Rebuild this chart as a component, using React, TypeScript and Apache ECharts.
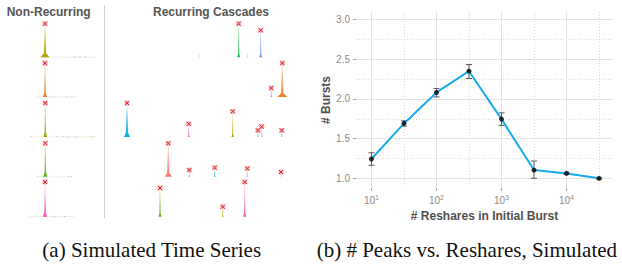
import React, { useEffect, useRef } from "react";
import * as echarts from "echarts";

// [row, time, height (row units), half width, color, has peak marker]
type Spike = [number, number, number, number, string, number];

const nonRecurringSpikes: Spike[] = [
  [0, 45, 0.84, 4.5, "#ADA300", 1],
  [0, 73.3, 0.03, 0.6, "#F57FD0", 0],
  [0, 75.7, 0.03, 0.6, "#E58700", 0],
  [0, 80, 0.03, 0.6, "#3FA9F5", 0],
  [0, 85.7, 0.03, 0.6, "#00B050", 0],
  [1, 45, 0.85, 2.2, "#E8862E", 1],
  [1, 37.3, 0.02, 0.6, "#C8D0E0", 0],
  [1, 50, 0.03, 0.6, "#D070F0", 0],
  [1, 56, 0.03, 0.6, "#F07AB0", 0],
  [1, 66.7, 0.03, 0.6, "#00B8A0", 0],
  [1, 74, 0.03, 0.6, "#A070FF", 0],
  [2, 45.3, 0.85, 1.8, "#99A800", 1],
  [2, 31, 0.03, 0.6, "#D08020", 0],
  [2, 57.3, 0.03, 0.6, "#3F8FF5", 0],
  [2, 63.3, 0.03, 0.6, "#E08A30", 0],
  [2, 67.7, 0.03, 0.6, "#F07AC0", 0],
  [2, 76, 0.03, 0.6, "#C080F0", 0],
  [2, 91.7, 0.03, 0.6, "#B080F0", 0],
  [2, 94.7, 0.03, 0.6, "#A0A000", 0],
  [3, 45.3, 0.84, 2.0, "#5BB300", 1],
  [3, 37.7, 0.03, 0.6, "#3F8FF5", 0],
  [3, 42.7, 0.03, 0.6, "#00B8C0", 0],
  [3, 68.3, 0.03, 0.6, "#3F8FF5", 0],
  [3, 71.3, 0.03, 0.6, "#00A040", 0],
  [4, 45, 0.87, 2.2, "#FB4FC0", 1],
  [4, 44.3, 0.03, 0.6, "#E58700", 0],
  [4, 54.3, 0.03, 0.6, "#8080FF", 0],
  [4, 64.3, 0.03, 0.6, "#00B050", 0],
];

const recurringSpikes: Spike[] = [
  [0, 133.7, 0.84, 1.3, "#00B93A", 1],
  [0, 155.7, 0.675, 1.3, "#6A8CFF", 1],
  [0, 94.3, 0.1, 0.6, "#80CCF0", 0],
  [0, 142.3, 0.1, 0.6, "#60D0C0", 0],
  [1, 177.3, 0.85, 5, "#EE7F2A", 1],
  [1, 166.3, 0.225, 1.0, "#A87BFF", 1],
  [2, 22, 0.85, 3, "#00A8E8", 1],
  [2, 83.7, 0.33, 1.2, "#F05BD0", 1],
  [2, 127.7, 0.64, 1.3, "#C8A000", 1],
  [2, 153, 0.165, 0.9, "#2CC69A", 1],
  [2, 156.7, 0.26, 1.0, "#E88BF5", 1],
  [2, 176.7, 0.165, 0.9, "#D9A640", 1],
  [3, 63.3, 0.84, 3.5, "#F8766D", 1],
  [3, 84.3, 0.17, 0.8, "#1BC3C3", 1],
  [3, 109.7, 0.23, 1.0, "#16C0B0", 1],
  [3, 142.3, 0.21, 1.0, "#E57BEF", 1],
  [3, 176, 0.12, 0.8, "#F79CC9", 1],
  [4, 55, 0.72, 1.6, "#64B000", 1],
  [4, 117.7, 0.25, 1.0, "#B3A600", 1],
  [4, 139.7, 0.87, 1.7, "#F5658F", 1],
];

// [row, start, end] faint baseline extents of the non-recurring series
const nonRecurringBaselines: [number, number, number][] = [
  [0, 40, 96],
  [1, 37, 75],
  [2, 31, 95],
  [3, 37, 72],
  [4, 29, 74],
];

const reshares = [10, 31.62, 100, 316.2, 1000, 3162, 10000, 31623];
const burstMeans = [1.243, 1.692, 2.082, 2.35, 1.746, 1.104, 1.062, 1.0];
const burstLow = [1.164, 1.658, 2.026, 2.258, 1.667, 1.0, 1.05, 0.99];
const burstHigh = [1.322, 1.725, 2.132, 2.434, 1.825, 1.218, 1.075, 1.006];

const yMajorTicks = [1, 1.5, 2, 2.5, 3];
const yMinorTicks = [1.25, 1.75, 2.25, 2.75];
const xMajorTicks = [10, 100, 1000, 10000];
const xMinorTicks = [31.62, 316.2, 3162, 31623];

const SANS = "Liberation Sans";
const SERIF = "Liberation Serif";

function rgba(hex: string, a: number) {
  const h = hex.replace("#", "");
  const r = parseInt(h.slice(0, 2), 16);
  const g = parseInt(h.slice(2, 4), 16);
  const b = parseInt(h.slice(4, 6), 16);
  return `rgba(${r},${g},${b},${a})`;
}

function spikeRenderer(source: Spike[]) {
  return (params: any, api: any) => {
    const [row, t, h, w, color, marked] = source[params.dataIndex];
    const b = 4 - row;
    const pts = [
      [t - w, b],
      [t - Math.min(w * 0.4, 1.2), b + h * 0.12],
      [t - 0.35, b + h],
      [t + 0.35, b + h],
      [t + Math.min(w * 0.4, 1.2), b + h * 0.12],
      [t + w, b],
    ].map((p) => api.coord(p));
    const children: any[] = [
      {
        type: "polygon",
        shape: { points: pts },
        style: {
          fill: new echarts.graphic.LinearGradient(0, 0, 0, 1, [
            { offset: 0, color: rgba(color, 0.15) },
            { offset: 0.5, color: rgba(color, 0.6) },
            { offset: 1, color: rgba(color, 1) },
          ]),
        },
      },
    ];
    if (marked) {
      const [cx, cy] = api.coord([t, b + h]);
      children.push({
        type: "rect",
        shape: { x: cx - 2.5, y: cy - 2.5, width: 5, height: 5 },
        style: { fill: "rgba(245,140,150,0.6)" },
      });
      children.push({
        type: "line",
        shape: { x1: cx - 2, y1: cy - 2, x2: cx + 2, y2: cy + 2 },
        style: { stroke: "#e0202a", lineWidth: 1 },
      });
      children.push({
        type: "line",
        shape: { x1: cx - 2, y1: cy + 2, x2: cx + 2, y2: cy - 2 },
        style: { stroke: "#e0202a", lineWidth: 1 },
      });
    }
    return { type: "group", children };
  };
}

const SUP = ["0", "1", "2", "3", "4", "5"];

export default function App() {
  const ref = useRef<HTMLDivElement>(null);
  useEffect(() => {
    if (!ref.current) return;
    const chart = echarts.init(ref.current, undefined, { renderer: "svg" });
    const hiddenAxis = { show: false };
    const option: any = {
      animation: false,
      backgroundColor: "#ffffff",
      textStyle: { fontFamily: SANS },
      grid: [
        { left: 0, top: 17.3, width: 105, height: 199.4 },
        { left: 105, top: 17.3, width: 205, height: 199.4 },
        { left: 356, top: 12, width: 257, height: 176 },
      ],
      xAxis: [
        { ...hiddenAxis, type: "value", gridIndex: 0, min: 0, max: 105 },
        { ...hiddenAxis, type: "value", gridIndex: 1, min: 0, max: 205 },
        {
          type: "log",
          gridIndex: 2,
          position: "bottom",
          min: 5.78,
          max: 51880,
          axisLine: { show: false },
          axisTick: { show: true, length: 3, lineStyle: { color: "#a0a0a0" }, customValues: xMajorTicks },
          axisLabel: {
            customValues: xMajorTicks,
            margin: 6,
            formatter: (v: number) => `{b|10}{s|${SUP[Math.round(Math.log10(v))]}}`,
            rich: {
              b: { fontSize: 10, color: "#8c8c8c", fontFamily: SANS },
              s: { fontSize: 7, color: "#8c8c8c", fontFamily: SANS, padding: [0, 0, 6, 0] },
            },
          },
          splitLine: { show: true, lineStyle: { color: "#e2e2e2", width: 1 } },
          name: "# Reshares in Initial Burst",
          nameLocation: "middle",
          nameGap: 17,
          nameTextStyle: { fontSize: 12, fontWeight: "bold", color: "#505050", fontFamily: SANS },
        },
        {
          type: "log",
          gridIndex: 2,
          position: "bottom",
          min: 5.78,
          max: 51880,
          axisLine: { show: false },
          axisTick: { show: false, customValues: xMinorTicks },
          axisLabel: { show: false, customValues: xMinorTicks },
          splitLine: { show: true, lineStyle: { color: "#dadada", width: 1, type: [1, 2] } },
        },
      ],
      yAxis: [
        { ...hiddenAxis, type: "value", gridIndex: 0, min: 0, max: 5 },
        { ...hiddenAxis, type: "value", gridIndex: 1, min: 0, max: 5 },
        {
          type: "value",
          gridIndex: 2,
          min: 0.878,
          max: 3.096,
          axisLine: { show: false },
          axisTick: { show: true, length: 3, lineStyle: { color: "#a0a0a0" }, customValues: yMajorTicks },
          axisLabel: {
            customValues: yMajorTicks,
            margin: 6,
            fontSize: 10,
            color: "#8c8c8c",
            fontFamily: SANS,
            formatter: (v: number) => v.toFixed(1),
          },
          splitLine: { show: true, lineStyle: { color: "#e2e2e2", width: 1 } },
          name: "# Bursts",
          nameLocation: "middle",
          nameGap: 22,
          nameTextStyle: { fontSize: 12, fontWeight: "bold", color: "#505050", fontFamily: SANS },
        },
        {
          type: "value",
          gridIndex: 2,
          min: 0.878,
          max: 3.096,
          axisLine: { show: false },
          axisTick: { show: false, customValues: yMinorTicks },
          axisLabel: { show: false, customValues: yMinorTicks },
          splitLine: { show: true, lineStyle: { color: "#dadada", width: 1, type: [1, 2] } },
        },
      ],
      series: [
        {
          type: "custom",
          xAxisIndex: 0,
          yAxisIndex: 0,
          data: nonRecurringBaselines.map((d) => [d[1], 4 - d[0], d[2]]),
          renderItem: (params: any, api: any) => {
            const d = nonRecurringBaselines[params.dataIndex];
            const p0 = api.coord([d[1], 4 - d[0]]);
            const p1 = api.coord([d[2], 4 - d[0]]);
            return {
              type: "line",
              shape: { x1: p0[0], y1: p0[1], x2: p1[0], y2: p1[1] },
              style: { stroke: "#efece0", lineWidth: 1 },
            };
          },
        },
        {
          type: "custom",
          xAxisIndex: 0,
          yAxisIndex: 0,
          data: nonRecurringSpikes.map((s) => [s[1], 4 - s[0] + s[2]]),
          renderItem: spikeRenderer(nonRecurringSpikes),
        },
        {
          type: "custom",
          xAxisIndex: 1,
          yAxisIndex: 1,
          data: recurringSpikes.map((s) => [s[1], 4 - s[0] + s[2]]),
          renderItem: spikeRenderer(recurringSpikes),
        },
        {
          type: "custom",
          xAxisIndex: 2,
          yAxisIndex: 2,
          data: reshares.map((x, i) => [x, burstLow[i], burstHigh[i]]),
          renderItem: (params: any, api: any) => {
            const x = api.value(0);
            const lo = api.coord([x, api.value(1)]);
            const hi = api.coord([x, api.value(2)]);
            const st = { stroke: "#5a5a5a", lineWidth: 1 };
            return {
              type: "group",
              children: [
                { type: "line", shape: { x1: lo[0], y1: lo[1], x2: hi[0], y2: hi[1] }, style: st },
                { type: "line", shape: { x1: lo[0] - 3, y1: lo[1], x2: lo[0] + 3, y2: lo[1] }, style: st },
                { type: "line", shape: { x1: hi[0] - 3, y1: hi[1], x2: hi[0] + 3, y2: hi[1] }, style: st },
              ],
            };
          },
          z: 2,
        },
        {
          type: "line",
          xAxisIndex: 2,
          yAxisIndex: 2,
          data: reshares.map((x, i) => [x, burstMeans[i]]),
          symbol: "none",
          lineStyle: { color: "#17acee", width: 2 },
          z: 3,
        },
        {
          type: "scatter",
          xAxisIndex: 2,
          yAxisIndex: 2,
          data: reshares.map((x, i) => [x, burstMeans[i]]),
          symbolSize: 5,
          itemStyle: { color: "#000000" },
          z: 4,
        },
      ],
      graphic: [
        {
          type: "line",
          shape: { x1: 104.5, y1: 5, x2: 104.5, y2: 218 },
          style: { stroke: "#cfcfcf", lineWidth: 1 },
        },
        {
          type: "text",
          x: 48.7,
          y: 12,
          style: {
            text: "Non-Recurring",
            font: `bold 12px ${SANS}`,
            fill: "#555555",
            align: "center",
            verticalAlign: "middle",
          },
        },
        {
          type: "text",
          x: 211,
          y: 12,
          style: {
            text: "Recurring Cascades",
            font: `bold 12px ${SANS}`,
            fill: "#555555",
            align: "center",
            verticalAlign: "middle",
          },
        },
        {
          type: "text",
          x: 151.7,
          y: 250,
          style: {
            text: "(a) Simulated Time Series",
            font: `21px ${SERIF}`,
            fill: "#111111",
            align: "center",
            verticalAlign: "middle",
          },
        },
        {
          type: "text",
          x: 316.7,
          y: 250,
          style: {
            text: "(b) # Peaks vs. Reshares, Simulated",
            font: `21px ${SERIF}`,
            fill: "#111111",
            align: "left",
            verticalAlign: "middle",
          },
        },
      ],
    };
    chart.setOption(option);
    return () => chart.dispose();
  }, []);
  return (
    <div
      ref={ref}
      style={{ position: "fixed", left: 0, top: 0, width: 622, height: 264, background: "#fff" }}
    />
  );
}
